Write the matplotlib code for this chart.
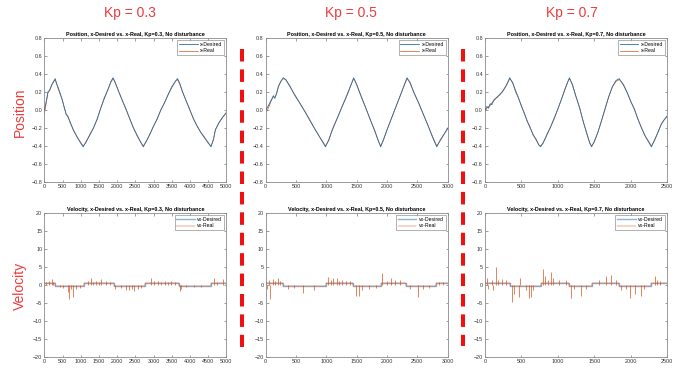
import numpy as np
import matplotlib
matplotlib.use("Agg")
import matplotlib.pyplot as plt
from matplotlib.lines import Line2D

plt.rcParams['font.family'] = ['Liberation Sans', 'DejaVu Sans']
plt.rcParams['lines.scale_dashes'] = False

kp_values = ["0.3", "0.5", "0.7"]
x_limits = [5000, 3000, 2500]

# ---- position data ----
pos03_x = [0, 50, 100, 150, 200, 250, 300, 330, 380, 450, 500, 550, 600, 650, 700, 800, 900, 1000,
           1070, 1150, 1250, 1350, 1450, 1550, 1650, 1750, 1830, 1890, 1950, 2050, 2150, 2250, 2350,
           2450, 2550, 2650, 2720, 2800, 2900, 3000, 3100, 3200, 3300, 3400, 3500, 3600, 3660, 3720,
           3800, 3900, 4000, 4100, 4200, 4300, 4400, 4500, 4580, 4650, 4700, 4800, 4900, 5000]
pos03_des = [0.0, 0.09, 0.2, 0.22, 0.28, 0.31, 0.35, 0.3, 0.25, 0.17, 0.1, 0.03, -0.05, -0.07, -0.13,
             -0.22, -0.3, -0.37, -0.41, -0.35, -0.28, -0.2, -0.1, 0.02, 0.13, 0.23, 0.32, 0.36, 0.3,
             0.2, 0.1, 0.0, -0.1, -0.2, -0.28, -0.36, -0.41, -0.35, -0.27, -0.18, -0.1, 0.0, 0.08,
             0.17, 0.25, 0.32, 0.35, 0.3, 0.2, 0.1, 0.0, -0.1, -0.18, -0.25, -0.31, -0.36, -0.41,
             -0.32, -0.22, -0.14, -0.08, -0.03]
pos03_real = [-0.05, 0.07, 0.19, 0.23, 0.27, 0.32, 0.34, 0.31, 0.24, 0.16, 0.11, 0.02, -0.04, -0.08,
              -0.12, -0.23, -0.3, -0.36, -0.4, -0.36, -0.27, -0.2, -0.11, 0.02, 0.14, 0.23, 0.31,
              0.35, 0.31, 0.2, 0.1, 0.01, -0.1, -0.2, -0.29, -0.36, -0.4, -0.35, -0.27, -0.18, -0.1,
              0.0, 0.08, 0.17, 0.26, 0.32, 0.34, 0.29, 0.2, 0.1, 0.0, -0.1, -0.18, -0.25, -0.3, -0.37,
              -0.4, -0.33, -0.22, -0.14, -0.08, -0.03]

pos05_x = [0, 30, 60, 90, 126, 150, 180, 210, 250, 290, 330, 400, 480, 560, 640, 720, 800, 880, 940,
           985, 1040, 1100, 1180, 1260, 1340, 1400, 1450, 1500, 1560, 1640, 1720, 1800, 1860, 1895,
           1940, 2000, 2080, 2160, 2240, 2300, 2330, 2380, 2440, 2520, 2600, 2680, 2760, 2820, 2880,
           2940, 3000]
pos05_des = [0.0, 0.03, 0.07, 0.11, 0.16, 0.13, 0.19, 0.26, 0.32, 0.36, 0.34, 0.26, 0.17, 0.08,
             -0.01, -0.1, -0.2, -0.29, -0.36, -0.41, -0.33, -0.22, -0.09, 0.04, 0.17, 0.27, 0.36,
             0.28, 0.18, 0.04, -0.1, -0.24, -0.35, -0.41, -0.33, -0.22, -0.08, 0.06, 0.2, 0.31,
             0.36, 0.3, 0.2, 0.08, -0.05, -0.18, -0.32, -0.41, -0.33, -0.27, -0.2]
pos05_real = [-0.03, 0.0, 0.05, 0.1, 0.15, 0.14, 0.18, 0.27, 0.32, 0.35, 0.34, 0.27, 0.16, 0.08,
              -0.01, -0.11, -0.2, -0.29, -0.35, -0.4, -0.34, -0.21, -0.09, 0.04, 0.16, 0.27, 0.35,
              0.29, 0.17, 0.04, -0.1, -0.23, -0.35, -0.4, -0.34, -0.22, -0.08, 0.06, 0.2, 0.3, 0.35,
              0.31, 0.2, 0.08, -0.05, -0.18, -0.31, -0.4, -0.34, -0.27, -0.21]

pos07_x = [0, 25, 50, 70, 95, 115, 140, 170, 205, 240, 270, 300, 340, 380, 420, 460, 500, 540, 580,
           620, 660, 700, 740, 764, 800, 850, 900, 950, 1000, 1050, 1100, 1140, 1160, 1200, 1250,
           1300, 1350, 1400, 1440, 1464, 1500, 1550, 1600, 1650, 1700, 1750, 1800, 1845, 1900, 1950,
           2000, 2050, 2100, 2150, 2200, 2250, 2286, 2330, 2380, 2420, 2460, 2500]
pos07_des = [0.0, 0.04, 0.02, 0.07, 0.06, 0.11, 0.12, 0.15, 0.17, 0.21, 0.24, 0.29, 0.36, 0.3, 0.22,
             0.13, 0.05, -0.04, -0.12, -0.2, -0.27, -0.33, -0.39, -0.41, -0.36, -0.28, -0.19, -0.09,
             0.01, 0.12, 0.24, 0.32, 0.36, 0.28, 0.15, 0.02, -0.13, -0.27, -0.37, -0.41, -0.35,
             -0.25, -0.12, 0.02, 0.15, 0.26, 0.33, 0.35, 0.28, 0.2, 0.1, 0.01, -0.1, -0.2, -0.29,
             -0.36, -0.41, -0.33, -0.24, -0.16, -0.11, -0.07]
pos07_real = [-0.02, 0.02, 0.04, 0.05, 0.08, 0.09, 0.13, 0.14, 0.18, 0.2, 0.25, 0.28, 0.35, 0.31,
              0.2, 0.14, 0.04, -0.03, -0.13, -0.19, -0.28, -0.32, -0.39, -0.4, -0.37, -0.27, -0.19,
              -0.1, 0.01, 0.12, 0.23, 0.32, 0.35, 0.29, 0.15, 0.03, -0.13, -0.26, -0.37, -0.4,
              -0.36, -0.25, -0.12, 0.01, 0.15, 0.26, 0.32, 0.34, 0.29, 0.2, 0.1, 0.02, -0.1, -0.2,
              -0.29, -0.35, -0.4, -0.34, -0.24, -0.16, -0.11, -0.07]

# ---- velocity data: desired steps + spikes of the real signal ----
vel03_step_x = [0, 300, 1090, 1920, 2760, 3710, 4590, 5000]
vel03_step_y = [0.5, -0.4, 0.5, -0.4, 0.5, -0.4, 0.5, 0.5]
vel03_spk_x = [60, 130, 202, 250, 420, 520, 642, 688, 735, 780, 872, 980, 1193, 1284, 1350, 1422,
               1500, 1560, 1700, 1800, 1954, 2100, 2248, 2340, 2410, 2477, 2569, 2650, 2936, 3000,
               3119, 3200, 3303, 3400, 3486, 3600, 3716, 3760, 3900, 4100, 4300, 4651, 4750, 4908]
vel03_spk_y = [0.9, 1.0, 1.8, 0.8, -0.6, -0.8, -2.0, -3.8, -1.0, -3.3, -1.2, -0.7, 1.2, 1.9, 0.9,
               1.2, 0.8, 1.6, 1.0, 0.8, -1.2, -0.8, -1.5, -1.4, -1.0, -1.6, -1.1, -0.7, 2.0, 1.0,
               1.2, 0.9, 1.1, 0.8, 1.2, 0.8, -1.6, -1.0, -0.6, -0.5, -0.6, 2.0, 0.9, 1.7]

vel05_step_x = [0, 290, 995, 1445, 1905, 2320, 2810, 3000]
vel05_step_y = [0.5, -0.4, 0.5, -0.4, 0.5, -0.4, 0.5, 0.5]
vel05_spk_x = [25, 50, 71, 115, 160, 208, 235, 370, 470, 619, 790, 1029, 1070, 1111, 1170, 1200,
               1260, 1330, 1390, 1495, 1538, 1580, 1710, 1820, 1922, 2000, 2070, 2125, 2210, 2380,
               2507, 2590, 2700, 2850, 2920]
vel05_spk_y = [-1.2, 1.5, -4.0, 1.8, 1.2, 2.0, 1.0, -1.0, -0.8, -2.2, -1.3, 2.3, 1.5, 2.0, 2.0,
               1.2, 1.4, 1.0, 1.2, -3.0, -3.0, -1.5, -1.0, -0.8, 3.3, 1.2, 2.0, 1.5, 1.3, -1.0,
               -3.2, -1.2, -0.8, 0.8, 0.9]

vel07_step_x = [0, 340, 764, 1160, 1464, 1845, 2286, 2500]
vel07_step_y = [0.5, -0.4, 0.5, -0.4, 0.5, -0.4, 0.5, 0.5]
vel07_spk_x = [23, 45, 91, 114, 145, 182, 227, 295, 377, 400, 468, 486, 568, 605, 636, 660, 795,
               818, 860, 909, 932, 1023, 1114, 1182, 1227, 1318, 1386, 1568, 1659, 1727, 1795,
               1864, 1932, 1986, 2055, 2136, 2182, 2332, 2364, 2409]
vel07_spk_y = [2.0, -1.0, 1.5, -1.3, 5.0, 1.5, 1.8, 1.3, -4.8, -2.5, -3.3, 2.0, -1.5, -3.5, -3.3,
               -1.5, 4.5, 2.5, 1.5, 3.5, 2.0, 1.5, 1.5, -3.5, -1.0, -3.0, -1.2, 1.5, 2.5, 2.7, 1.3,
               -1.3, -1.0, -3.5, -2.5, -3.0, -1.0, 2.5, 1.3, 1.0]

pos_data = [(pos03_x, pos03_des, pos03_real), (pos05_x, pos05_des, pos05_real),
            (pos07_x, pos07_des, pos07_real)]
vel_data = [(vel03_step_x, vel03_step_y, vel03_spk_x, vel03_spk_y),
            (vel05_step_x, vel05_step_y, vel05_spk_x, vel05_spk_y),
            (vel07_step_x, vel07_step_y, vel07_spk_x, vel07_spk_y)]

blue = '#2a6fa8'
orange = '#D95319'
red = '#EC3B3B'

W, H = 692, 371
fig = plt.figure(figsize=(W / 100, H / 100), dpi=100)

col_left = [44.3, 265.7, 485.0]
ax_w = 182.0
row_top = [38.3, 213.3]
ax_h = 143.5


def style_axes(ax, xmax, ylim, yticks):
    ax.set_xlim(0, xmax)
    ax.set_ylim(*ylim)
    ax.set_xticks(np.arange(0, xmax + 1, 500))
    ax.set_yticks(yticks)
    ax.tick_params(direction='in', length=1.8, width=0.4, labelsize=3.9, pad=1.5,
                   colors='#555555', labelcolor='#333333', top=True, right=True)
    for s in ax.spines.values():
        s.set_color('#8a8a8a')
        s.set_linewidth(0.6)


def leg(ax, labels):
    lg = ax.legend(labels, loc='upper right', fontsize=3.7, frameon=True, fancybox=False,
                   borderpad=0.35, handlelength=3.6, handletextpad=0.5, labelspacing=0.25,
                   borderaxespad=0.4)
    lg.get_frame().set_edgecolor('#777777')
    lg.get_frame().set_linewidth(0.5)


for i in range(3):
    # position row
    ax = fig.add_axes([col_left[i] / W, 1 - (row_top[0] + ax_h) / H, ax_w / W, ax_h / H])
    px, pd_, pr = pos_data[i]
    ax.plot(px, pd_, color=blue, lw=0.6, zorder=3, label='x-Desired')
    ax.plot(px, pr, color=orange, lw=0.5, zorder=2, label='x-Real')
    style_axes(ax, x_limits[i], (-0.8, 0.8), np.round(np.arange(-0.8, 0.81, 0.2), 1))
    ax.set_title(f"Position, x-Desired vs. x-Real, Kp={kp_values[i]}, No disturbance",
                 fontsize=3.9, fontweight='bold', pad=1.8)
    leg(ax, ['x-Desired', 'x-Real'])

    # velocity row
    ax = fig.add_axes([col_left[i] / W, 1 - (row_top[1] + ax_h) / H, ax_w / W, ax_h / H])
    sx, sy, kx, ky = vel_data[i]
    ax.plot(sx, sy, color='#8db4d6', lw=1.0, drawstyle='steps-post', zorder=2, label='vx-Desired')
    ax.plot(sx, sy, color=orange, lw=0.35, drawstyle='steps-post', zorder=3, label='vx-Real')
    ax.vlines(kx, 0, ky, color=orange, lw=0.5, zorder=3)
    style_axes(ax, x_limits[i], (-20, 20), np.arange(-20, 21, 5))
    ax.set_title(f"Velocity, x-Desired vs. x-Real, Kp={kp_values[i]}, No disturbance",
                 fontsize=3.9, fontweight='bold', pad=1.8)
    leg(ax, ['vx-Desired', 'vx-Real'])

# red column headers and row labels
kp_cx = [130, 350.5, 571.5]
for i, k in enumerate(kp_values):
    fig.text(kp_cx[i] / W, 1 - 13 / H, f"Kp = {k}", color=red, fontsize=10,
             ha='center', va='center')
fig.text(20 / W, 1 - 112 / H, "Position", color=red, fontsize=10, rotation=90,
         ha='center', va='center')
fig.text(20 / W, 1 - 286 / H, "Velocity", color=red, fontsize=10, rotation=90,
         ha='center', va='center')

# dashed separators
for xpix, ybot in [(241.7, 347), (463.0, 346)]:
    fig.add_artist(Line2D([xpix / W, xpix / W], [1 - 49 / H, 1 - ybot / H],
                          transform=fig.transFigure, color='#F01010', lw=2.9,
                          dashes=(9.0, 5.7)))

fig.savefig("out.png", dpi=100, facecolor='white')
